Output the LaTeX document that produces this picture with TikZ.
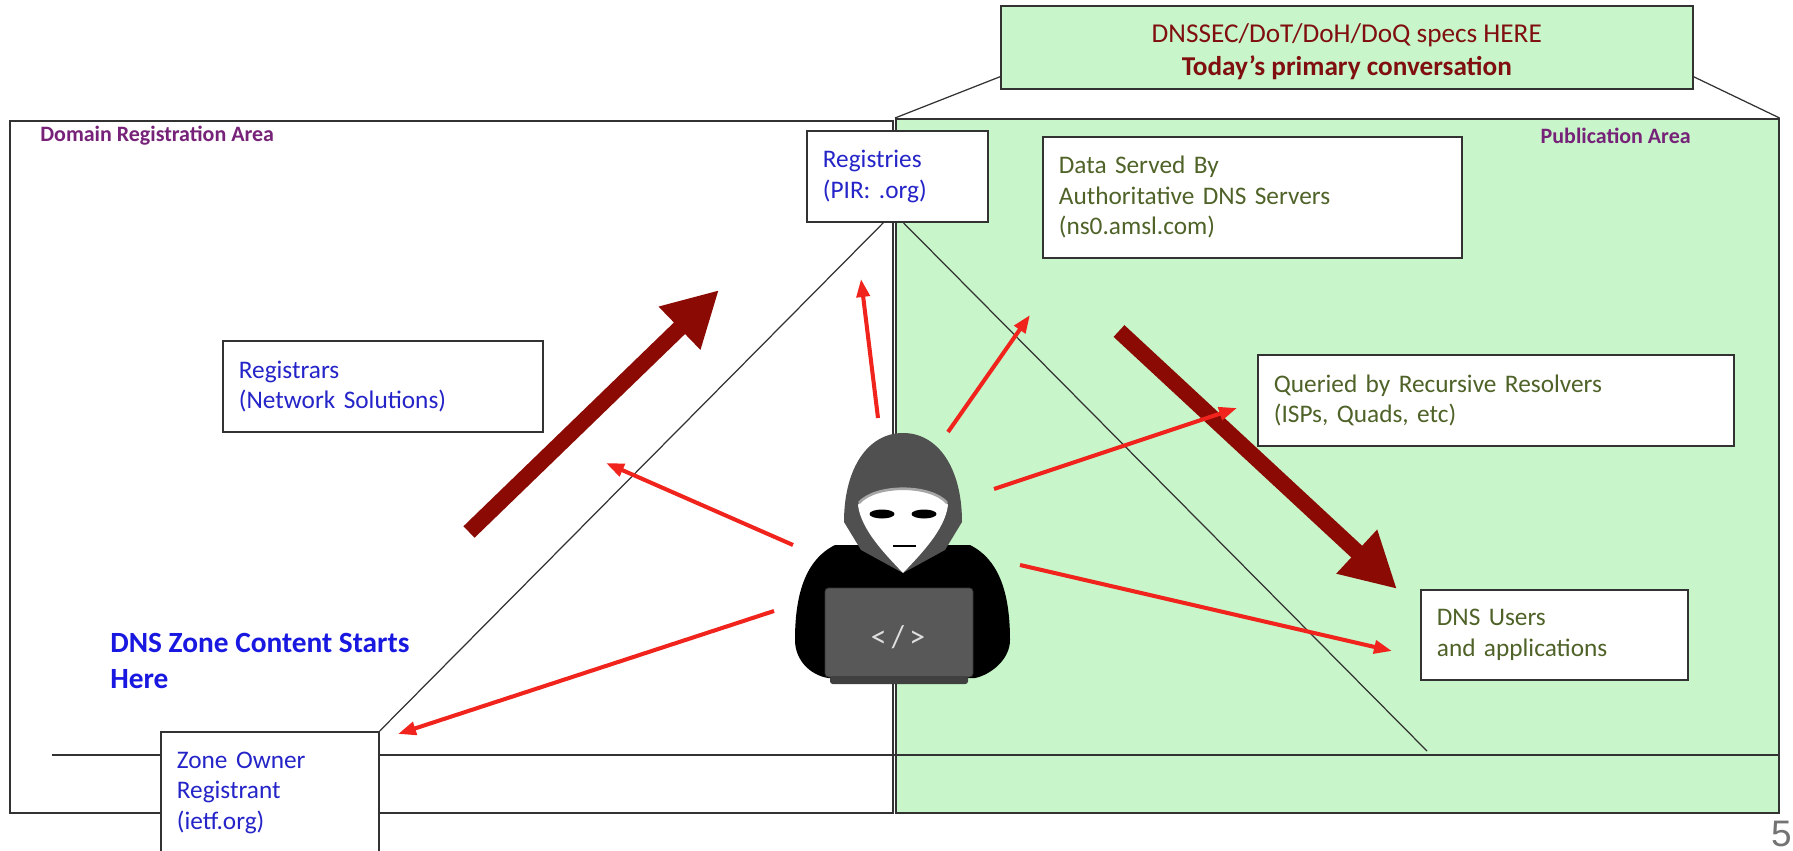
\documentclass[tikz,border=0pt]{standalone}
\usepackage{fontspec}
\setmainfont{Carlito}
\newfontfamily\numfont{Liberation Sans}
\usetikzlibrary{arrows.meta,calc}

\definecolor{pubgreen}{RGB}{200,246,202}
\definecolor{areapurple}{RGB}{118,34,120}
\definecolor{regblue}{RGB}{36,36,200}
\definecolor{zoneblue}{RGB}{24,24,224}
\definecolor{pubolive}{RGB}{79,98,40}
\definecolor{specred}{RGB}{128,16,16}
\definecolor{flowred}{RGB}{140,10,4}
\definecolor{attackred}{RGB}{240,36,28}
\definecolor{hoodgray}{RGB}{80,80,80}
\definecolor{lapgray}{RGB}{88,88,88}
\definecolor{edgegray}{RGB}{50,50,50}

\newcommand\boxfont{\fontsize{14.4}{17.4}\selectfont}
\newcommand\labelfont{\fontsize{12.5}{15}\selectfont\bfseries}
\newcommand\specfont{\fontsize{15.5}{18.8}\selectfont}
\newcommand\startfont{\fontsize{16.7}{20.5}\selectfont\bfseries}

\begin{document}
\begin{tikzpicture}[x=0.02cm, y=-0.02cm,
    box/.style={draw=edgegray, line width=1pt, fill=white, anchor=north west,
      align=left, inner xsep=0.32cm, font=\boxfont},
    area/.style={draw=edgegray, line width=1pt, anchor=north west, inner sep=0pt},
    arealabel/.style={font=\labelfont, text=areapurple, inner sep=0pt},
    guide/.style={edgegray, line width=0.7pt},
    flow/.style={flowred, line width=0.32cm, -{Triangle[length=1.1cm,width=1.12cm]}},
    attack/.style={attackred, line width=2.3pt, -{Triangle[length=0.36cm,width=0.26cm]}}]
  \path[use as bounding box, fill=white] (0,0) rectangle (1793,851);
  \clip (0,0) rectangle (1793,851);

  % Areas
  \node[area, fill=pubgreen, minimum width=17.66cm, minimum height=13.88cm] (pubarea) at (895,118) {};
  \node[area, minimum width=17.66cm, minimum height=13.84cm] (regarea) at (9,120) {};
  \node[arealabel, anchor=west] (reglabel) at (40,136) {Domain Registration Area};
  \node[arealabel, anchor=east] (publabel) at (1691,136) {Publication Area};

  % Spec box on top
  \node[draw=edgegray, line width=1pt, fill=pubgreen, anchor=north west,
    minimum width=13.84cm, minimum height=1.66cm] (spec) at (1000,5) {};
  \node[align=center, font=\specfont, text=specred, inner sep=0pt]
    (spectext) at ($(spec.center)+(0,4)$) {DNSSEC/DoT/DoH/DoQ specs HERE\\\textbf{Today’s primary conversation}};
  \draw[guide] ($(spec.south west)+(0,-13)$) -- (pubarea.north west);
  \draw[guide] ($(spec.south east)+(0,-13)$) -- (pubarea.north east);

  % Zone line
  \coordinate (zline) at (52,755);
  \draw[guide, line width=0.9pt] (zline) -- (zline -| pubarea.east);

  % Boxes
  \node[box, text=regblue, minimum width=3.62cm, minimum height=1.82cm, text width=2.98cm]
    (reg) at (806,130) {Registries\\(PIR: .org)};
  \node[box, text=pubolive, minimum width=8.38cm, minimum height=2.42cm, text width=7.74cm]
    (data) at (1042,136) {Data Served By\\Authoritative DNS Servers\\(ns0.amsl.com)};
  \node[box, text=regblue, minimum width=6.4cm, minimum height=1.82cm, text width=5.76cm]
    (rars) at (222,340) {Registrars\\(Network Solutions)};
  \node[box, text=pubolive, minimum width=9.52cm, minimum height=1.82cm, text width=8.88cm]
    (rec) at (1257,354) {Queried by Recursive Resolvers\\(ISPs, Quads, etc)};
  \node[box, text=pubolive, minimum width=5.34cm, minimum height=1.8cm, text width=4.7cm]
    (users) at (1420,589) {DNS Users\\and applications};
  \node[box, text=regblue, minimum width=4.36cm, minimum height=2.44cm, text width=3.72cm]
    (zone) at (160,731) {Zone Owner\\Registrant\\(ietf.org)};
  \node[anchor=west, align=left, inner sep=0pt, font=\startfont, text=zoneblue]
    (start) at (110,661) {DNS Zone Content Starts\\Here};

  % Triangle
  \draw[guide] (zone.north east) -- ($(reg.south)+(-14,0)$);
  \draw[guide] ($(reg.south)+(6,0)$) -- (1427,751);

  % Main flow
  \coordinate (flowa) at (469,532);
  \coordinate (flowb) at (1119,331);
  \draw[flow] (flowa) -- (719,290);
  \draw[flow] (flowb) -- (1397,589);

  % Attacks
  \coordinate (hk1) at (878,418);  \coordinate (to1) at (861,279);
  \coordinate (hk2) at (948,432);  \coordinate (to2) at (1030,315);
  \coordinate (hk3) at (994,489);  \coordinate (to3) at (1237,408);
  \coordinate (hk4) at (1020,565); \coordinate (to4) at (1392,651);
  \coordinate (hk5) at (793,545);  \coordinate (to5) at (606,463);
  \coordinate (hk6) at (774,611);  \coordinate (to6) at (398,734);
  \foreach \i in {1,...,6}
    \draw[attack] (hk\i) -- (to\i);

  % Hacker
  \fill[black] (835,545) -- (970,545) .. controls (1000,560) and (1010,595) .. (1010,640)
    .. controls (1010,660) and (990,675) .. (975,678) -- (828,678)
    .. controls (810,675) and (795,660) .. (795,640)
    .. controls (795,595) and (805,560) .. (835,545) -- cycle;
  \fill[hoodgray] (903,433) .. controls (938,433) and (962,468) .. (962,522) -- (945,550)
    -- (903,573) -- (861,550) -- (844,522) .. controls (844,468) and (868,433) .. (903,433) -- cycle;
  \fill[white] (903,489) .. controls (925,489) and (945,495) .. (948,505)
    .. controls (945,530) and (920,555) .. (903,573)
    .. controls (886,555) and (861,530) .. (858,505)
    .. controls (861,495) and (881,489) .. (903,489) -- cycle;
  \draw[gray!70, line width=1.5pt] (859,503) .. controls (875,484) and (931,484) .. (947,503);
  \fill[black] (882,514) ellipse [x radius=12.5, y radius=4.5];
  \fill[black] (924,514) ellipse [x radius=12.5, y radius=4.5];
  \draw[black, line width=1.2pt] (893,546) -- (916,546);
  \fill[lapgray, draw=black!80, rounded corners=2pt] (825,588) rectangle (973,677);
  \fill[black!75, rounded corners=1.5pt] (830,676) rectangle (968,684);
  \node[text=gray!25, font=\fontsize{18}{18}\selectfont, inner sep=0pt] (code) at (898,637) {<\,/\,>};

  % Page number
  \node[anchor=south east, inner sep=0pt, font=\numfont\fontsize{21}{21}\selectfont, text=black!55]
    (pagenum) at (1792,847) {5};
\end{tikzpicture}
\end{document}
